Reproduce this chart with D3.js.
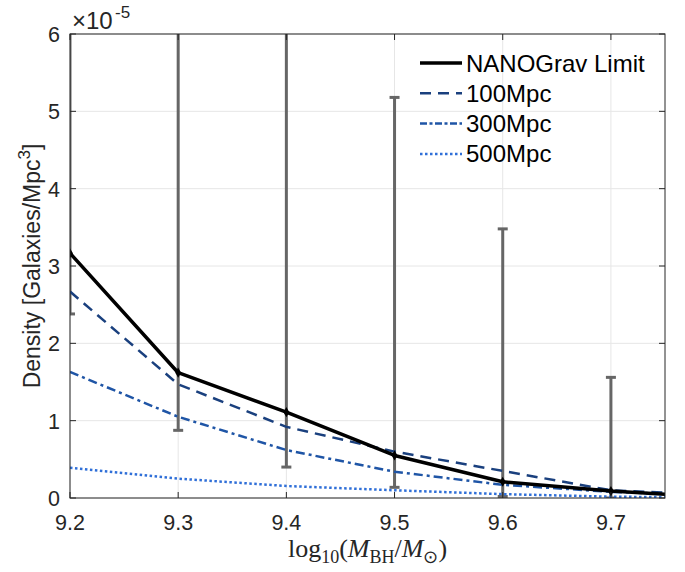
<!DOCTYPE html>
<html><head><meta charset="utf-8">
<script src="https://cdn.jsdelivr.net/npm/d3@7"></script>
<style>body{margin:0;background:#fff}svg{display:block}</style>
</head><body>
<svg id="c" width="685" height="572"></svg>
<script>
const masses = [9.2, 9.3, 9.4, 9.5, 9.6, 9.7, 9.8];
const nanograv = [3.165, 1.62, 1.11, 0.55, 0.21, 0.09, 0.01];
const mpc100 = [2.67, 1.47, 0.92, 0.60, 0.35, 0.10, 0.04];
const mpc300 = [1.63, 1.05, 0.62, 0.34, 0.17, 0.08, 0.03];
const mpc500 = [0.39, 0.25, 0.155, 0.10, 0.05, 0.017, 0.005];
const errMass = [9.2, 9.3, 9.4, 9.5, 9.6, 9.7];
const errLow = [2.38, 0.875, 0.40, 0.138, 0.02, 0.0];
const errHigh = [9.0, 8.0, 7.0, 5.18, 3.48, 1.56];
const xTicks = [9.2, 9.3, 9.4, 9.5, 9.6, 9.7];
const yTicks = [0, 1, 2, 3, 4, 5, 6];

const svg = d3.select('#c');
const L = 70, R = 665, T = 34, B = 498;
const x = d3.scaleLinear().domain([9.2, 9.75]).range([L, R]);
const y = d3.scaleLinear().domain([0, 6]).range([B, T]);
const font = "'Liberation Sans', Arial, Helvetica, sans-serif";
const axc = '#262626';

svg.append('defs').append('clipPath').attr('id', 'clip')
  .append('rect').attr('x', L).attr('y', T).attr('width', R - L).attr('height', B - T);

// grid
const grid = svg.append('g');
xTicks.forEach(t => grid.append('line').attr('x1', x(t)).attr('x2', x(t)).attr('y1', T).attr('y2', B)
  .attr('stroke', '#e6e6e6').attr('stroke-width', 1));
yTicks.forEach(t => grid.append('line').attr('x1', L).attr('x2', R).attr('y1', y(t)).attr('y2', y(t))
  .attr('stroke', '#e6e6e6').attr('stroke-width', 1));

const plot = svg.append('g').attr('clip-path', 'url(#clip)');

// error bars
const eb = plot.append('g').attr('stroke', '#666').attr('stroke-width', 3);
errMass.forEach((m, i) => {
  eb.append('line').attr('x1', x(m)).attr('x2', x(m)).attr('y1', y(errLow[i])).attr('y2', y(errHigh[i]));
  [errLow[i], errHigh[i]].forEach(v => eb.append('line').attr('x1', x(m) - 5).attr('x2', x(m) + 5)
    .attr('y1', y(v)).attr('y2', y(v)));
});

const line = d3.line().x((d, i) => x(masses[i])).y(d => y(d));
const series = [
  {name: '500Mpc', vals: mpc500, color: '#2f6fd8', w: 2.5, dash: '2.5,2.5'},
  {name: '300Mpc', vals: mpc300, color: '#1f55a6', w: 2.5, dash: '9,4,3,4'},
  {name: '100Mpc', vals: mpc100, color: '#1a407e', w: 2.5, dash: '11,7'},
];
series.forEach(s => plot.append('path').attr('d', line(s.vals)).attr('fill', 'none')
  .attr('stroke', s.color).attr('stroke-width', s.w).attr('stroke-dasharray', s.dash));
plot.append('path').attr('d', line(nanograv)).attr('fill', 'none').attr('stroke', '#000')
  .attr('stroke-width', 3.5).attr('stroke-linejoin', 'round');
nanograv.forEach((v, i) => plot.append('path')
  .attr('d', d3.symbol().type(d3.symbolDiamond).size(30)())
  .attr('transform', `translate(${x(masses[i])},${y(v)})`).attr('fill', '#000'));

// box & ticks
const ax = svg.append('g').attr('stroke', axc).attr('stroke-width', 1).attr('fill', 'none');
ax.append('rect').attr('x', L).attr('y', T).attr('width', R - L).attr('height', B - T);
xTicks.forEach(t => {
  ax.append('line').attr('x1', x(t)).attr('x2', x(t)).attr('y1', B).attr('y2', B - 6);
  ax.append('line').attr('x1', x(t)).attr('x2', x(t)).attr('y1', T).attr('y2', T + 6);
});
yTicks.forEach(t => {
  ax.append('line').attr('x1', L).attr('x2', L + 6).attr('y1', y(t)).attr('y2', y(t));
  ax.append('line').attr('x1', R).attr('x2', R - 6).attr('y1', y(t)).attr('y2', y(t));
});

const txt = svg.append('g').attr('font-family', font).attr('fill', axc);
xTicks.forEach(t => txt.append('text').attr('x', x(t)).attr('y', 530).style('font-size', '21.5px')
  .attr('text-anchor', 'middle').text(t.toFixed(1)));
yTicks.forEach(t => txt.append('text').attr('x', 60).attr('y', y(t) + 8).style('font-size', '21.5px')
  .attr('text-anchor', 'end').text(t));

// exponent
txt.append('text').attr('x', 72).attr('y', 29).style('font-size', '24px').text('\u00d710');
txt.append('text').attr('x', 115).attr('y', 18).style('font-size', '17px').text('-5');

// y label
const yl = txt.append('text').attr('transform', `translate(40,${(T + B) / 2}) rotate(-90)`)
  .attr('text-anchor', 'middle').style('font-size', '23px');
yl.append('tspan').text('Density [Galaxies/Mpc');
yl.append('tspan').attr('dy', -10).style('font-size', '17px').text('3');
yl.append('tspan').attr('dy', 10).text(']');

// x label
const xl = svg.append('text').attr('x', (L + R) / 2).attr('y', 557).attr('text-anchor', 'middle')
  .attr('font-family', "'Liberation Serif', serif").style('font-size', '26px').attr('fill', axc);
xl.append('tspan').text('log');
xl.append('tspan').attr('dy', 6).style('font-size', '18px').text('10');
xl.append('tspan').attr('dy', -6).text('(');
xl.append('tspan').attr('font-style', 'italic').text('M');
xl.append('tspan').attr('dy', 6).style('font-size', '18px').text('BH');
xl.append('tspan').attr('dy', -6).text('/');
xl.append('tspan').attr('font-style', 'italic').text('M');
xl.append('tspan').attr('dy', 6).style('font-size', '18px').text('\u2299');
xl.append('tspan').attr('dy', -6).text(')');

// legend
const leg = svg.append('g');
const legItems = [
  {name: 'NANOGrav Limit', color: '#000', w: 3.5, dash: null},
  {name: '100Mpc', color: series[2].color, w: 2.5, dash: series[2].dash},
  {name: '300Mpc', color: series[1].color, w: 2.5, dash: '7,2.5,3,2.5'},
  {name: '500Mpc', color: series[0].color, w: 2.5, dash: series[0].dash},
];
legItems.forEach((d, i) => {
  const yy = 63 + i * 30.3;
  leg.append('line').attr('x1', 420).attr('x2', 462).attr('y1', yy).attr('y2', yy)
    .attr('stroke', d.color).attr('stroke-width', d.w).attr('stroke-dasharray', d.dash);
  leg.append('text').attr('x', 466).attr('y', yy + 8.5).attr('font-family', font).style('font-size', '24px')
    .attr('fill', '#000').text(d.name);
});
</script>
</body></html>
